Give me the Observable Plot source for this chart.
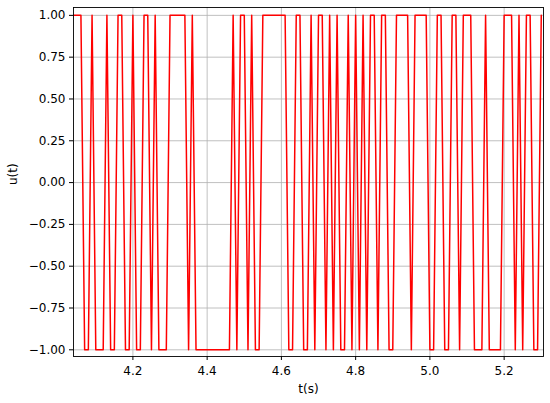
<!DOCTYPE html>
<html>
<head>
<meta charset="utf-8">
<script src="https://cdn.jsdelivr.net/npm/d3@7"></script>
<script src="https://cdn.jsdelivr.net/npm/@observablehq/plot@0.6"></script>
<style>
  html, body { margin: 0; padding: 0; background: white; }
  svg { display: block; }
</style>
</head>
<body>
<div id="chart"></div>
<script>
// sample times (s)
const tValues = [
  4.04, 4.05, 4.06, 4.07, 4.08, 4.09, 4.10, 4.11, 4.12, 4.13,
  4.14, 4.15, 4.16, 4.17, 4.18, 4.19, 4.20, 4.21, 4.22, 4.23,
  4.24, 4.25, 4.26, 4.27, 4.28, 4.29, 4.30, 4.31, 4.32, 4.33,
  4.34, 4.35, 4.36, 4.37, 4.38, 4.39, 4.40, 4.41, 4.42, 4.43,
  4.44, 4.45, 4.46, 4.47, 4.48, 4.49, 4.50, 4.51, 4.52, 4.53,
  4.54, 4.55, 4.56, 4.57, 4.58, 4.59, 4.60, 4.61, 4.62, 4.63,
  4.64, 4.65, 4.66, 4.67, 4.68, 4.69, 4.70, 4.71, 4.72, 4.73,
  4.74, 4.75, 4.76, 4.77, 4.78, 4.79, 4.80, 4.81, 4.82, 4.83,
  4.84, 4.85, 4.86, 4.87, 4.88, 4.89, 4.90, 4.91, 4.92, 4.93,
  4.94, 4.95, 4.96, 4.97, 4.98, 4.99, 5.00, 5.01, 5.02, 5.03,
  5.04, 5.05, 5.06, 5.07, 5.08, 5.09, 5.10, 5.11, 5.12, 5.13,
  5.14, 5.15, 5.16, 5.17, 5.18, 5.19, 5.20, 5.21, 5.22, 5.23,
  5.24, 5.25, 5.26, 5.27, 5.28, 5.29, 5.30
];
// control signal u(t)
const uValues = [
   1,  1,  1, -1, -1,  1, -1, -1, -1,  1,
  -1, -1,  1,  1, -1, -1,  1, -1, -1,  1,
   1, -1,  1, -1, -1, -1,  1,  1,  1,  1,
   1, -1,  1, -1, -1, -1, -1, -1, -1, -1,
  -1, -1, -1,  1, -1,  1,  1, -1,  1, -1,
  -1,  1,  1,  1,  1,  1,  1,  1, -1, -1,
   1,  1, -1, -1,  1, -1,  1,  1, -1,  1,
  -1,  1, -1, -1,  1, -1,  1, -1,  1, -1,
   1,  1, -1,  1,  1, -1, -1,  1,  1,  1,
   1, -1,  1,  1,  1,  1, -1, -1,  1,  1,
  -1, -1,  1,  1, -1,  1,  1,  1, -1, -1,
  -1,  1, -1, -1, -1, -1,  1,  1,  1, -1,
   1, -1,  1,  1, -1, -1,  1
];
const xTicks = [4.2, 4.4, 4.6, 4.8, 5.0, 5.2];
const yTicks = [-1.0, -0.75, -0.5, -0.25, 0.0, 0.25, 0.5, 0.75, 1.0];
const xLabel = "t(s)";
const yLabel = "u(t)";

const data = tValues.map((t, i) => ({t, u: uValues[i]}));
const yFmt = d => (d < 0 ? "\u2212" : "") + Math.abs(d).toFixed(2);

const chart = Plot.plot({
  width: 550,
  height: 403,
  marginLeft: 73,
  marginRight: 7,
  marginTop: 7,
  marginBottom: 47,
  style: {fontFamily: "DejaVu Sans", fontSize: "12px", background: "white", color: "black"},
  x: {domain: [4.04, 5.306], label: null},
  y: {domain: [-1.04, 1.047], label: null},
  marks: [
    Plot.gridX(xTicks, {stroke: "#b0b0b0", strokeOpacity: 1, strokeWidth: 0.8}),
    Plot.gridY(yTicks, {stroke: "#b0b0b0", strokeOpacity: 1, strokeWidth: 0.8}),
    Plot.line(data, {x: "t", y: "u", stroke: "red", strokeWidth: 1.5, clip: true}),
    Plot.frame({stroke: "black", strokeWidth: 0.9}),
    Plot.axisX(xTicks, {tickFormat: d => d.toFixed(1), tickSize: 4, tickPadding: 6, label: null, fill: "black", stroke: "black"}),
    Plot.axisY(yTicks, {tickFormat: yFmt, tickSize: 4, tickPadding: 4, label: null, fill: "black", stroke: "black"}),
    Plot.text([xLabel], {frameAnchor: "bottom", dy: 36, fill: "black", fontSize: 12}),
    Plot.text([yLabel], {frameAnchor: "left", dx: -60, dy: 3, rotate: -90, fill: "black", fontSize: 12})
  ]
});
document.getElementById("chart").appendChild(chart);
</script>
</body>
</html>
